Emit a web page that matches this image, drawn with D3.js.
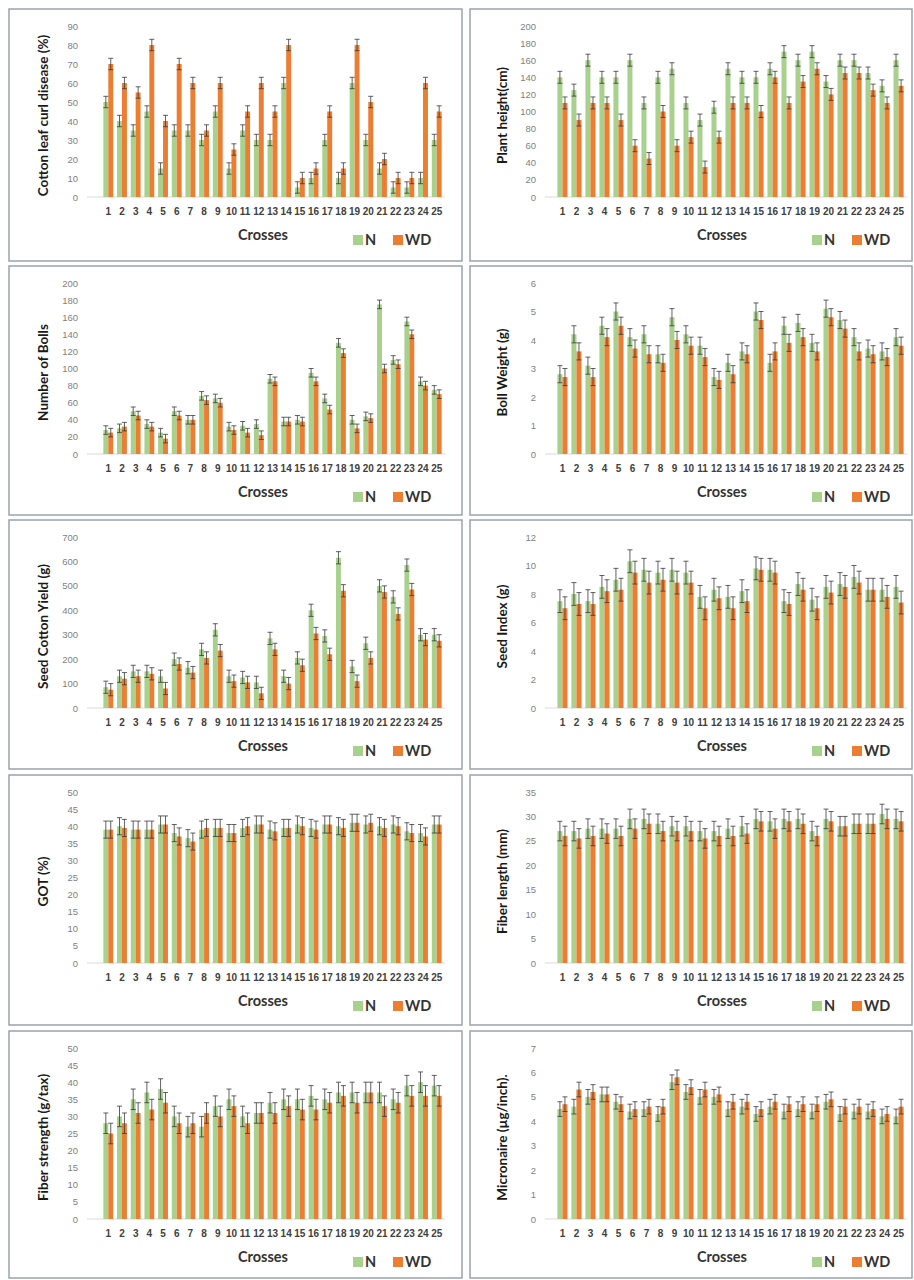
<!DOCTYPE html>
<html>
<head>
	<meta charset="utf-8">
	<title>index</title>
	<script src="https://d3js.org/d3.v7.min.js"></script>
	<style>
		body { margin:0; background:#fff; }
		svg { display:block; font-family: Lato, "Open Sans", sans-serif; }
		.ytick { fill:#7f7f7f; font-size:9.5px; }
		.xtick { fill:#404040; font-size:10px; font-weight:bold; }
		.ytitle { fill:#1a1a1a; font-size:13.5px; font-weight:bold; }
		.xtitle { fill:#333; font-size:14.5px; font-weight:bold; }
		.legend { fill:#333; font-size:14.5px; font-weight:bold; }
	</style>
</head>
<body>
<script>

	// crosses and series
	var crosses = d3.range(1, 26).map(String);
	var series = ["N", "WD"];

	var clcdN  = [50,40,35,45,15,35,35,30,45,15,35,30,30,60,5,10,30,10,60,30,15,5,5,10,30];
	var clcdWD = [70,60,55,80,40,70,60,35,60,25,45,60,45,80,10,15,45,15,80,50,20,10,10,60,45];

	var heightN  = [140,125,160,140,140,160,110,140,150,110,90,105,150,140,140,150,170,160,170,135,160,160,145,130,160];
	var heightWD = [110,90,110,110,90,60,45,100,60,70,35,70,110,110,100,140,110,135,150,120,145,145,125,110,130];

	var bollsN  = [28,30,50,35,25,50,40,68,65,32,33,35,88,38,40,95,65,130,40,44,175,110,155,85,75];
	var bollsWD = [25,32,45,32,18,45,40,63,60,28,25,22,85,38,38,85,52,118,30,42,100,105,140,80,70];

	var bollWtN  = [2.8,4.2,3.1,4.5,5.0,4.1,4.2,3.5,4.8,4.2,3.8,2.7,3.2,3.6,5.0,3.2,4.5,4.6,3.9,5.1,4.7,4.1,3.7,3.6,4.1];
	var bollWtWD = [2.7,3.6,2.7,4.1,4.5,3.7,3.5,3.2,4.0,3.8,3.4,2.6,2.8,3.5,4.7,3.6,3.9,4.1,3.6,4.8,4.4,3.6,3.5,3.4,3.8];

	var yieldN  = [85,130,150,150,130,200,165,240,320,130,125,105,285,130,205,400,295,615,170,265,500,455,585,300,300];
	var yieldWD = [75,120,130,140,80,180,145,205,235,110,105,60,240,100,175,305,220,480,110,205,475,385,485,280,275];

	var seedIdxN  = [7.5,8.0,7.5,8.5,9.0,10.3,9.7,9.5,9.7,9.5,7.8,8.3,7.8,8.2,9.8,9.7,7.5,8.7,7.6,8.5,8.7,9.2,8.3,8.3,8.5];
	var seedIdxWD = [7.0,7.3,7.3,8.2,8.3,9.5,8.8,9.0,8.8,8.8,7.0,7.7,7.0,7.5,9.7,9.5,7.3,8.3,7.0,8.1,8.5,8.8,8.3,7.8,7.4];

	var gotN  = [39,40,39,39,40.5,38,36.5,39,39.5,38,39.5,40.5,39,39.5,40.5,39.5,40.5,40,41,40.5,40,40.5,38.5,38,40.5];
	var gotWD = [39,39.5,39,39,40.5,37,35.5,39.5,39.5,38,40,40.5,38.5,39.5,40,39,40.5,39.5,41,41,39.5,40,38,37,40.5];

	var lengthN  = [27,27,27.5,27.5,27.5,29.5,29.5,28.5,28,28,27,27,27.5,28,29.5,29,29.5,29.5,27,29.5,28,28.5,28.5,30.5,29.5];
	var lengthWD = [26,25.5,26,26.5,26,27.5,28.5,27,27,27,25.5,26,26,26.5,29,27.5,29,28.5,26,29,28,28.5,28.5,29.5,29];

	var strengthN  = [28,30,35,37,38,30,27,27,33,35,30,31,34,35,35,36,35,37,37,37,37,35,39,40,39];
	var strengthWD = [25,28,31,32,34,28,28,31,30,33,28,31,31,33,32,32,34,36,34,37,33,34,36,36,36];

	var micN  = [4.5,4.6,5.0,5.1,4.8,4.4,4.5,4.3,5.6,5.2,5.0,5.0,4.5,4.6,4.3,4.6,4.4,4.5,4.4,4.8,4.3,4.4,4.4,4.2,4.2];
	var micWD = [4.7,5.3,5.2,5.1,4.7,4.5,4.6,4.6,5.8,5.4,5.3,5.1,4.8,4.8,4.5,4.8,4.7,4.7,4.7,4.9,4.6,4.6,4.5,4.3,4.6];

	// axis titles, y max, tick step, error bar half length
	var yTitles = ["Cotton leaf curl disease (%)", "Plant height(cm)", "Number of Bolls", "Boll Weight (g)",
		"Seed Cotton Yield (g)", "Seed Index (g)", "GOT (%)", "Fiber length (mm)",
		"Fiber strength (g/tax)", "Micronaire (µg/inch)."];
	var yMax   = [90, 200, 200, 6, 700, 12, 50, 35, 50, 7];
	var yStep  = [10, 20, 20, 1, 100, 2, 5, 5, 5, 1];
	var errors = [3, 7, 5, 0.3, 25, 0.8, 2.5, 2, 3, 0.3];

	var nData  = [clcdN, heightN, bollsN, bollWtN, yieldN, seedIdxN, gotN, lengthN, strengthN, micN];
	var wdData = [clcdWD, heightWD, bollsWD, bollWtWD, yieldWD, seedIdxWD, gotWD, lengthWD, strengthWD, micWD];

	var colors = { N: "#a9d18e", WD: "#ed7d31" };

	// layout
	var panelTop = [9, 266, 520, 775, 1031];
	var panelBottom = [261, 515, 769, 1025, 1278];
	var colBox = [[9, 462], [470, 912]];
	var colBand = [[102, 443], [556, 905]];
	var colBase = [87, 545];
	var colTitleX = [45, 504];
	var colOffset = [0, 459];
	var plotH = 171;

	var svg = d3.select("body").append("svg").attr("width", 914).attr("height", 1280);

	for (var i = 0; i < 10; i++) {
		drawPanel(i);
	}

	function drawPanel(i) {
		var col = i % 2, row = Math.floor(i / 2);
		var g = svg.append("g");
		var top = panelTop[row] + 17;
		var bottom = top + plotH;

		g.append("rect")
			.attr("x", colBox[col][0]).attr("y", panelTop[row])
			.attr("width", colBox[col][1] - colBox[col][0])
			.attr("height", panelBottom[row] - panelTop[row])
			.attr("fill", "#fff").attr("stroke", "#9aa3ad").attr("stroke-width", 1.5);

		var y = d3.scaleLinear().domain([0, yMax[i]]).range([bottom, top]);
		var x = d3.scaleBand().domain(crosses).range(colBand[col]).paddingInner(0.28).paddingOuter(0.1);
		var xs = d3.scaleBand().domain(series).range([0, x.bandwidth()]);

		// y axis labels only
		var yAxis = d3.axisLeft(y).tickValues(d3.range(0, yMax[i] + yStep[i] / 2, yStep[i]))
			.tickSize(0).tickPadding(0).tickFormat(d3.format("~g"));
		var ya = g.append("g").attr("transform", "translate(" + (colBase[col] - 9) + ",0)").call(yAxis);
		ya.select(".domain").remove();
		ya.selectAll("text").attr("class", "ytick").attr("font-size", null).attr("font-family", null);

		// baseline
		g.append("line")
			.attr("x1", colBase[col]).attr("x2", colBand[col][1] + 2)
			.attr("y1", y(0)).attr("y2", y(0))
			.attr("stroke", "#d9d9d9").attr("stroke-width", 1);

		// bars
		var rows = crosses.map(function(c, k) {
			return { cross: c, N: nData[i][k], WD: wdData[i][k] };
		});
		var grp = g.selectAll(".cross").data(rows).enter().append("g")
			.attr("transform", function(d) { return "translate(" + x(d.cross) + ",0)"; });

		var bars = grp.selectAll("rect").data(function(d) {
			return series.map(function(s) { return { s: s, v: d[s] }; });
		}).enter();

		bars.append("rect")
			.attr("x", function(d) { return xs(d.s); })
			.attr("y", function(d) { return y(d.v); })
			.attr("width", xs.bandwidth())
			.attr("height", function(d) { return y(0) - y(d.v); })
			.attr("fill", function(d) { return colors[d.s]; });

		// error bars
		var e = errors[i];
		bars.append("path")
			.attr("d", function(d) {
				var cx = xs(d.s) + xs.bandwidth() / 2;
				var y1 = y(d.v + e), y2 = y(Math.max(0, d.v - e));
				return "M" + (cx - 2.5) + "," + y1 + "H" + (cx + 2.5) +
					"M" + cx + "," + y1 + "V" + y2 +
					"M" + (cx - 2.5) + "," + y2 + "H" + (cx + 2.5);
			})
			.attr("fill", "none").attr("stroke", "#3a3a3a").attr("stroke-width", 0.8);

		// x tick labels
		var xAxis = d3.axisBottom(x).tickSize(0).tickPadding(0);
		var xa = g.append("g").attr("transform", "translate(0," + (bottom + 11) + ")").call(xAxis);
		xa.select(".domain").remove();
		xa.selectAll("text").attr("class", "xtick").attr("font-size", null).attr("font-family", null);

		// axis titles
		g.append("text").attr("class", "ytitle")
			.attr("transform", "translate(" + colTitleX[col] + "," + ((top + bottom) / 2 + 4) + ") rotate(-90)")
			.attr("text-anchor", "middle").attr("dominant-baseline", "middle")
			.text(yTitles[i]);

		g.append("text").attr("class", "xtitle")
			.attr("x", 263 + colOffset[col]).attr("y", bottom + 43)
			.attr("text-anchor", "middle")
			.text("Crosses");

		// legend
		var lx = 353 + colOffset[col], ly = bottom + 47;
		series.forEach(function(s, k) {
			var ox = lx + k * 40;
			g.append("rect").attr("x", ox).attr("y", ly - 9).attr("width", 10).attr("height", 10)
				.attr("fill", colors[s]);
			g.append("text").attr("class", "legend")
				.attr("x", ox + 12).attr("y", ly + 1)
				.text(s);
		});
	}

</script>
</body>
</html>
